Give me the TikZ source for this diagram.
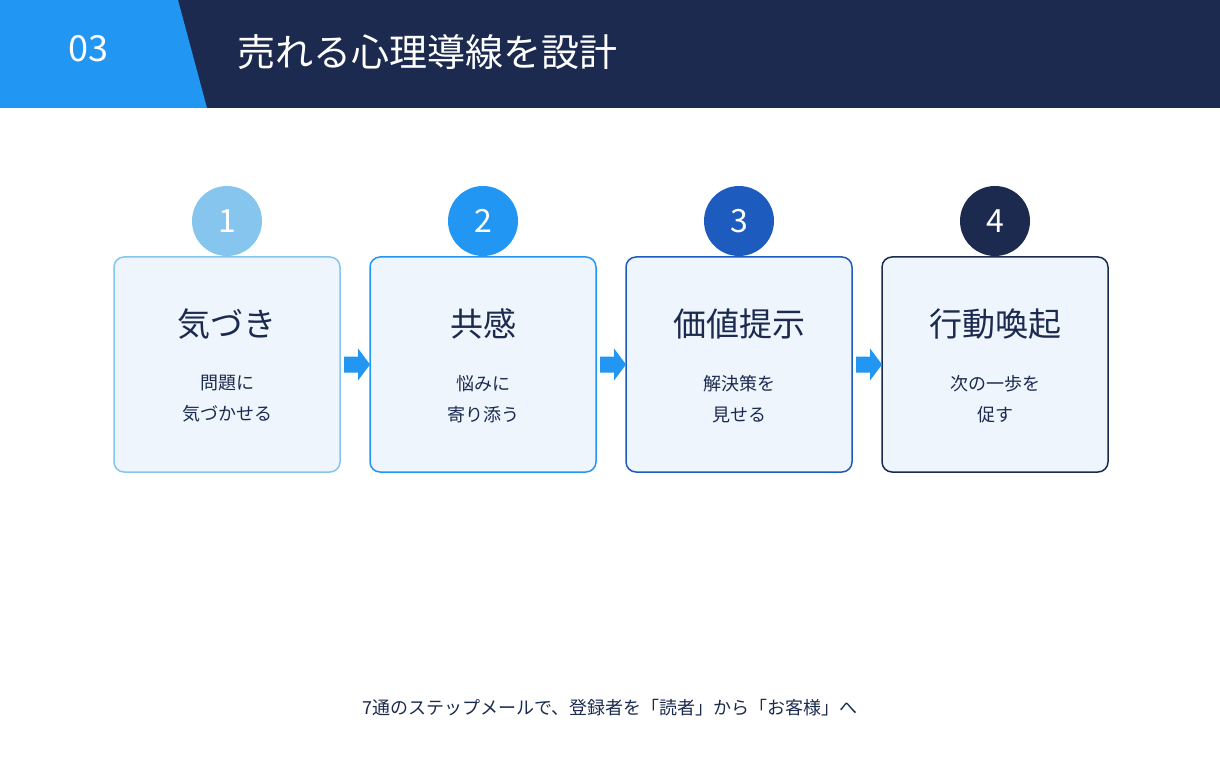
\documentclass[tikz,border=0pt]{standalone}
\usepackage{fontspec}
\setmainfont{Noto Sans CJK JP}
\usetikzlibrary{positioning, calc}
\definecolor{navy}{HTML}{1B2A4E}
\definecolor{skyblue}{HTML}{2196F3}
\definecolor{stepa}{HTML}{85C5EE}
\definecolor{stepb}{HTML}{2196F3}
\definecolor{stepc}{HTML}{1E5BBF}
\definecolor{stepd}{HTML}{1B2A4E}
\definecolor{boxfill}{HTML}{EEF5FD}
\tikzset{
  step/.style={draw=#1, line width=1.5pt, fill=boxfill, rounded corners=10pt,
    minimum width=226pt, minimum height=215pt, inner sep=0pt},
  badge/.style={circle, fill=#1, minimum size=70pt, inner sep=0pt,
    text=white, font=\fontsize{32}{32}\selectfont},
  heading/.style={text=navy, font=\fontsize{33}{36}\selectfont},
  sub/.style={text=navy, align=center, font=\fontsize{18}{31}\selectfont},
  flow/.style={fill=skyblue}
}
\begin{document}
\begin{tikzpicture}[x=1pt,y=-1pt]
\useasboundingbox (0,0) rectangle (1220,767);
% header
\fill[navy] (0,0) rectangle (1220,108);
\fill[skyblue] (0,0) -- (178,0) -- (207,108) -- (0,108) -- cycle;
\node[text=white, font=\fontsize{36}{36}\selectfont] (num) at (88,49) {03};
\node[text=white, anchor=west, font=\fontsize{38}{38}\selectfont] (title) at (234,52) {売れる心理導線を設計};
% steps
\foreach \i/\c/\h/\s [count=\k from 0] in {1/stepa/気づき/問題に\\気づかせる, 2/stepb/共感/悩みに\\寄り添う, 3/stepc/価値提示/解決策を\\見せる, 4/stepd/行動喚起/次の一歩を\\促す}{
  \node[badge=\c] (c\i) at (227+256*\k,221) {\i};
  \node[step=\c] (b\i) at (227+256*\k,364.5) {};
  \node[heading] (h\i) at (227+256*\k,324) {\h};
  \node[sub] (s\i) at (227+256*\k,399) {\s};
}
% arrows between boxes
\foreach \a/\b in {1/2, 2/3, 3/4}{
  \coordinate (m\a) at ($(b\a.east)!0.5!(b\b.west)$);
  \fill[flow] ([xshift=-11pt,yshift=-8pt]m\a) -- ([xshift=3pt,yshift=-8pt]m\a)
    -- ([xshift=3pt,yshift=-16pt]m\a) -- ([xshift=15pt]m\a)
    -- ([xshift=3pt,yshift=16pt]m\a) -- ([xshift=3pt,yshift=8pt]m\a)
    -- ([xshift=-11pt,yshift=8pt]m\a) -- cycle;
}
% footer
\node[text=navy, font=\fontsize{18}{18}\selectfont] (foot) at (610,708) {7通のステップメールで、登録者を「読者」から「お客様」へ};
\end{tikzpicture}
\end{document}
